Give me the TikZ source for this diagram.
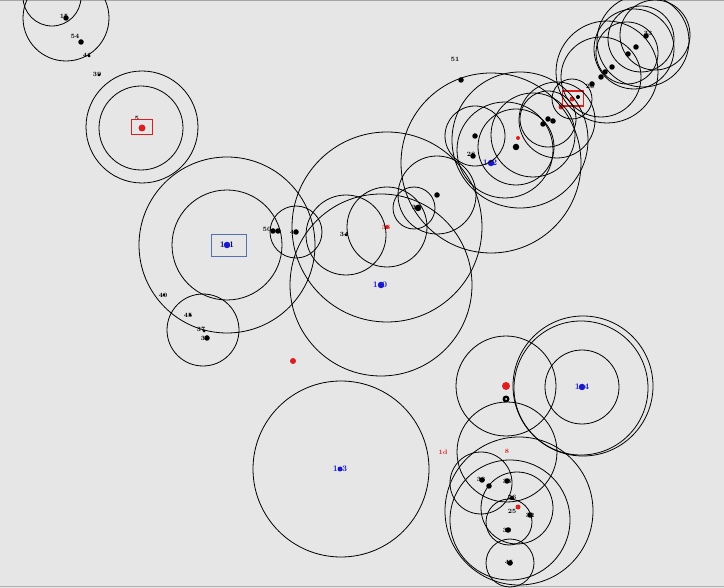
\documentclass[tikz,border=0pt]{standalone}
\usetikzlibrary{positioning}
\definecolor{bgc}{RGB}{230,230,230}
\definecolor{redc}{RGB}{222,30,30}
\definecolor{bluec}{RGB}{25,25,205}
\definecolor{boxblue}{RGB}{80,115,175}
\tikzset{
  ring/.style={draw=black, line width=0.8pt},
  bdot/.style={circle, fill=black, inner sep=0pt, minimum size=5.5pt},
  rdot/.style={circle, fill=redc, inner sep=0pt, minimum size=6pt},
  udot/.style={circle, fill=bluec, inner sep=0pt, minimum size=6.5pt},
  lab/.style={font=\fontsize{6.5}{7}\selectfont\bfseries, inner sep=0pt, text=black},
  rlab/.style={lab, text=redc},
  ulab/.style={font=\fontsize{8.5}{9}\selectfont\bfseries, inner sep=0pt, text=bluec},
  rbox/.style={draw=redc, line width=1.8pt},
  ubox/.style={draw=boxblue, line width=1.8pt}
}
\begin{document}
\begin{tikzpicture}[x=1pt,y=-1pt]
\useasboundingbox (0,0) rectangle (724,588);
\fill[bgc] (0,0) rectangle (724,588);
\draw[gray!70, line width=1.5pt] (0,0.7) -- (724,0.7);
\draw[gray!60, line width=1.5pt] (0,586.5) -- (724,586.5);
\clip (0,0) rectangle (724,588);

% ---------- nodes: top-left ----------
\node[bdot] (n15) at (66,18) {};
\node[lab] (t15) at (64,16) {15};
\node[bdot] (n54) at (81,42) {};
\node[lab] (t54) at (75,36) {54};
\node[bdot, minimum size=3pt] (n41) at (89,56) {};
\node[lab] (t41) at (87,55) {41};
\node[bdot, minimum size=3pt] (n39a) at (99,75) {};
\node[lab] (t39a) at (97,74) {39};
\coordinate (c1) at (52,-3);

% red box 1
\node[rdot, minimum size=7pt] (r5) at (142,128) {};
\node[lab] (t5) at (137,118) {5};
\node[rbox, minimum width=21pt, minimum height=15pt, inner sep=0pt] (rb1) at (142,127) {};

% 101 group
\node[udot] (u101) at (227,245) {};
\node[ulab, text=blue!45!black] (t101) at (227,245) {1\,\,\,1};
\node[ubox, minimum width=35pt, minimum height=22pt, inner sep=0pt] (ub101) at (229,245.5) {};
\node[bdot] (n50) at (273,231) {};
\node[bdot] (n50b) at (278,231) {};
\node[lab] (t50) at (267,229) {50};
\node[bdot] (n46) at (296,232) {};
\node[lab] (t46) at (294,232) {46};
\node[bdot, minimum size=3pt] (n40a) at (164,295) {};
\node[lab] (t40a) at (163,295) {40};
\node[bdot, minimum size=3pt] (n45a) at (190,315) {};
\node[lab] (t45a) at (188,315) {45};
\node[bdot, minimum size=3pt] (n37) at (204,331) {};
\node[lab] (t37) at (201,329) {37};
\node[bdot] (n39b) at (207,338) {};
\node[lab] (t39b) at (205,338) {39};
\coordinate (c8) at (203,330);

% ---------- middle ----------
\node[udot] (u100) at (381,285) {};
\node[ulab] (t100) at (380,285) {1\,\,\,0};
\node[rdot, minimum size=4pt] (r36) at (387,227) {};
\node[rlab] (t36) at (386,227) {36};
\node[lab] (t34) at (344,234) {34};
\node[bdot, minimum size=3pt] (n34) at (346,235) {};
\node[bdot, minimum size=6.5pt] (n38) at (418,208) {};
\node[lab] (t38) at (416,207) {38};
\node[bdot] (n39c) at (437,195) {};
\coordinate (c14) at (414,208);

% ---------- top-right cluster ----------
\node[lab] (t51) at (455,59) {51};
\node[bdot] (n40b) at (461,80) {};
\node[bdot] (n48) at (475,136) {};
\node[bdot] (n28) at (473,156) {};
\node[lab] (t28) at (471,154) {28};
\node[udot] (u102) at (491,163) {};
\node[ulab] (t102) at (490,163) {1\,\,\,2};
\node[rdot, minimum size=4pt] (r9) at (518,138) {};
\node[bdot, minimum size=6.5pt] (n30) at (516,147) {};
\node[bdot] (n7a) at (543,124) {};
\node[bdot] (n7b) at (548,119) {};
\node[bdot] (n7c) at (553,121) {};
\node[rdot, minimum size=5pt] (r41) at (561,107) {};
\node[rdot, minimum size=5pt] (r42) at (572,99) {};
\node[bdot, minimum size=4pt] (n8a) at (578,97) {};
\node[rbox, minimum width=21pt, minimum height=15pt, inner sep=0pt] (rb2) at (573,98.5) {};
\node[bdot] (n20) at (592,84) {};
\node[lab] (t20) at (590,86) {20};
\node[bdot] (n21) at (601,77) {};
\node[bdot] (n22) at (605,72) {};
\node[bdot] (n23) at (612,67) {};
\node[bdot] (n44) at (628,54) {};
\node[bdot] (n49) at (636,47) {};
\node[bdot] (n33) at (646,36) {};
\node[lab] (t33) at (648,33) {33};

% ---------- bottom ----------
\node[rdot, minimum size=6pt] (r0) at (293,361) {};
\node[udot, minimum size=5pt] (u103) at (340,469) {};
\node[ulab] (t103) at (340,469) {1\,\,\,3};
\node[rlab] (t1d) at (443,452) {1d};
\node[udot] (u104) at (582,387) {};
\node[ulab] (t104) at (582,387) {1\,\,\,4};
\node[rdot, minimum size=8pt] (r1) at (506,386) {};
\node[bdot, minimum size=7pt] (n0) at (506,399) {};
\node[circle, fill=white, inner sep=0pt, minimum size=2pt] (n0w) at (506,399) {};
\node[rlab] (t8) at (507,451) {8};
\node[bdot] (n38b) at (482,480) {};
\node[lab] (t38b) at (481,479) {38};
\node[bdot] (n38c) at (489,486) {};
\node[bdot] (n33b) at (507,481) {};
\node[lab] (t33b) at (507,481) {33};
\node[bdot, minimum size=4pt] (n26) at (512,498) {};
\node[lab] (t26) at (512,497) {26};
\node[rdot, minimum size=5pt] (r27) at (518,507) {};
\node[lab] (t25) at (512,511) {25};
\node[bdot] (n32) at (530,515) {};
\node[lab] (t32) at (530,515) {32};
\node[bdot] (n30b) at (508,530) {};
\node[lab] (t30b) at (507,530) {30};
\node[bdot] (n45b) at (510,563) {};
\node[lab] (t45b) at (509,562) {45};

% ---------- circles ----------
% top-left
\draw[ring] (c1) circle[radius=29];
\draw[ring] (n15) circle[radius=43];
\draw[ring] (142,127) circle[radius=56];
\draw[ring] (141,128) circle[radius=42];
% 101
\draw[ring] (u101) circle[radius=88];
\draw[ring] (u101) circle[radius=55];
\draw[ring] (n46) circle[radius=26];
\draw[ring] (c8) circle[radius=36];
% middle
\draw[ring] (u100) circle[radius=91];
\draw[ring] (r36) circle[radius=95];
\draw[ring] (r36) circle[radius=40];
\draw[ring] (n34) circle[radius=40];
\draw[ring] (n39c) circle[radius=39];
\draw[ring] (c14) circle[radius=21];
% top-right big cluster
\draw[ring] (u102) circle[radius=90];
\draw[ring] (520,140) circle[radius=68];
\draw[ring] (n48) circle[radius=30];
\draw[ring] (505,150) circle[radius=48];
\draw[ring] (n30) circle[radius=38];
\draw[ring] (533,135) circle[radius=42];
\draw[ring] (n7b) circle[radius=28];
\draw[ring] (557,120) circle[radius=38];
\draw[ring] (r42) circle[radius=20];
% far top-right
\draw[ring] (607,72) circle[radius=51];
\draw[ring] (601,77) circle[radius=40];
\draw[ring] (634,49) circle[radius=40];
\draw[ring] (627,53) circle[radius=31];
\draw[ring] (643,41) circle[radius=46];
\draw[ring] (655,35) circle[radius=35];
\draw[ring] (641,39) circle[radius=33];
% 103
\draw[ring] (341,469) circle[radius=88];
% 104
\draw[ring] (583,386) circle[radius=70];
\draw[ring] (581,388) circle[radius=67];
\draw[ring] (u104) circle[radius=37];
\draw[ring] (r1) circle[radius=50];
% bottom cluster
\draw[ring] (507,452) circle[radius=50];
\draw[ring] (519,511) circle[radius=74];
\draw[ring] (510,520) circle[radius=60];
\draw[ring] (481,483) circle[radius=31];
\draw[ring] (517,508) circle[radius=36];
\draw[ring] (509,522) circle[radius=23];
\draw[ring] (n45b) circle[radius=24];
\end{tikzpicture}
\end{document}
